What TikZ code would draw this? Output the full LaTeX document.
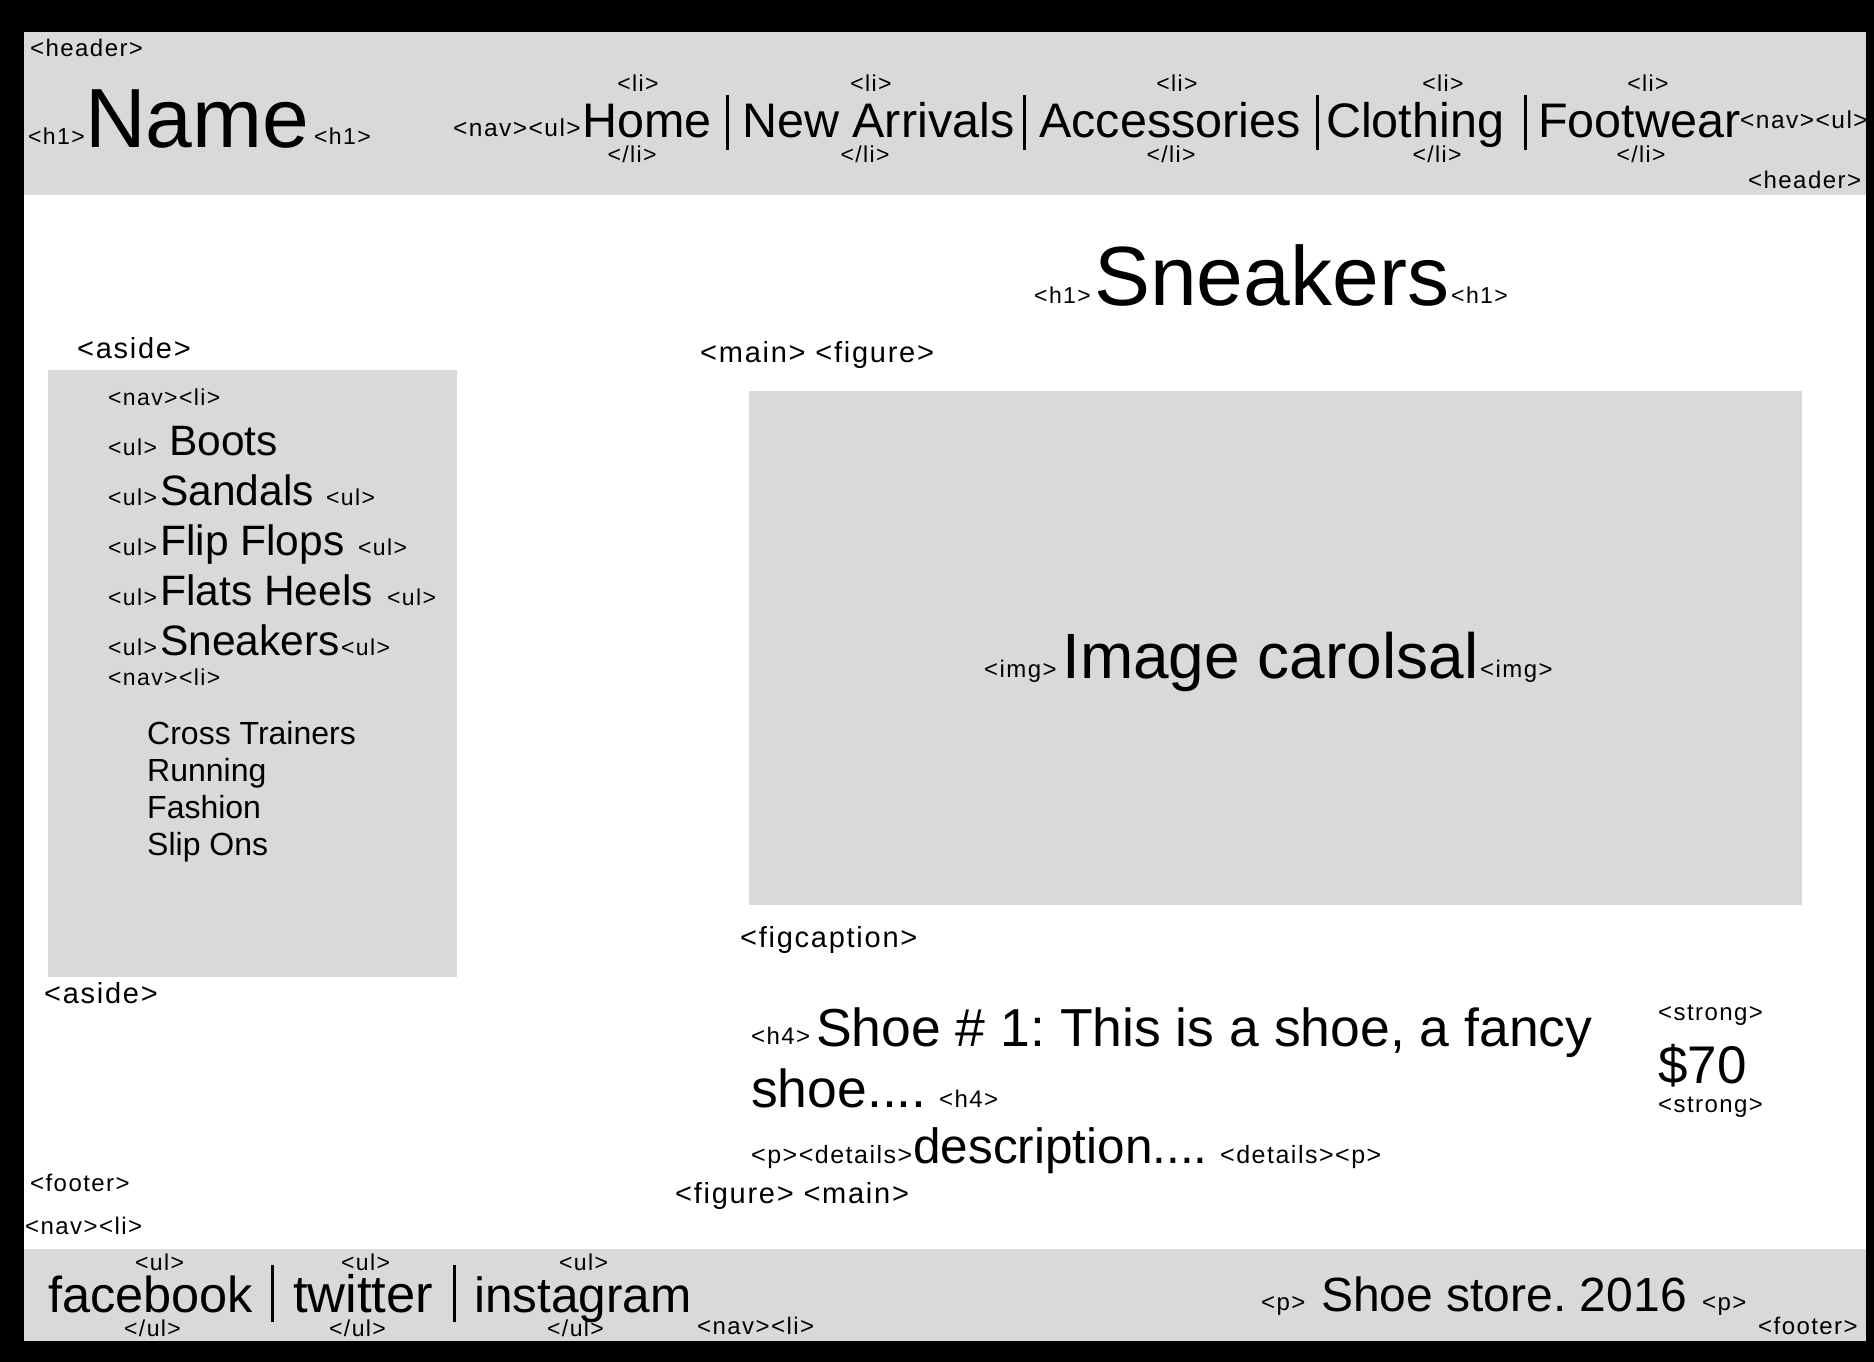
\documentclass[tikz,border=0pt]{standalone}
\usepackage{fontspec}
\setmainfont{Liberation Sans}
\newfontfamily\tagf{Liberation Sans}[LetterSpace=6]
\newcommand\setfs[1]{\fontsize{#1}{#1}\selectfont}
\definecolor{panel}{HTML}{D9D9D9}
\tikzset{
  tag/.style={anchor=base west, inner sep=0pt, font=\tagf\setfs{#1}},
  tag/.default=23,
  tagc/.style={anchor=base, inner sep=0pt, font=\tagf\setfs{#1}},
  tagc/.default=23,
  txt/.style={anchor=base west, inner sep=0pt, font=\setfs{#1}},
  bar/.style={line width=3pt, black},
}
\begin{document}
\frenchspacing
\begin{tikzpicture}[x=1pt,y=-1pt]
\useasboundingbox (0,0) rectangle (1874,1362);
% background
\fill[black] (0,0) rectangle (1874,1362);
\fill[white] (24,32) rectangle (1866,1341);
% header
\fill[panel] (24,32) rectangle (1866,195);
\node[tag=24] (hdrA) at (30,57) {<header>};
\node[tag] (h1a) at (28,145) {<h1>};
\node[txt=84] (name) at (85,147) {Name};
\node[tag] (h1b) at (314,145) {<h1>};
\node[tag=24.5] (navulA) at (453,136) {<nav><ul>};
\node[txt=48.5] (home) at (582,138) {Home};
\node[tagc] (liA) at (638,92) {<li>};
\node[tagc] (eliA) at (632,163) {</li>};
\coordinate (b1t) at (727,95); \coordinate (b1b) at (727,150);
\draw[bar] (b1t) -- (b1b);
\node[txt=48.5] (newarr) at (742,138) {New Arrivals};
\node[tagc] (liB) at (871,92) {<li>};
\node[tagc] (eliB) at (865,163) {</li>};
\coordinate (b2t) at (1024,95); \coordinate (b2b) at (1024,150);
\draw[bar] (b2t) -- (b2b);
\node[txt=48.5] (acc) at (1039,138) {Accessories};
\node[tagc] (liC) at (1177,92) {<li>};
\node[tagc] (eliC) at (1171,163) {</li>};
\coordinate (b3t) at (1317,95); \coordinate (b3b) at (1317,150);
\draw[bar] (b3t) -- (b3b);
\node[txt=48.5] (cloth) at (1326,138) {Clothing};
\node[tagc] (liD) at (1443,92) {<li>};
\node[tagc] (eliD) at (1437,163) {</li>};
\coordinate (b4t) at (1525,95); \coordinate (b4b) at (1525,150);
\draw[bar] (b4t) -- (b4b);
\node[txt=48.5] (foot) at (1538,138) {Footwear};
\node[tagc] (liE) at (1648,92) {<li>};
\node[tagc] (eliE) at (1641,163) {</li>};
\node[tag=24.5] (navulB) at (1740,129) {<nav><ul>};
\node[tag=24] (hdrB) at (1748,188) {<header>};
% main heading
\node[tag] (sh1a) at (1034,303) {<h1>};
\node[txt=84] (sneak) at (1094,305) {Sneakers};
\node[tag] (sh1b) at (1451,303) {<h1>};
% aside
\node[tag=29] (asideA) at (77,358) {<aside>};
\fill[panel] (48,370) rectangle (457,977);
\node[tag] (anavA) at (108,405) {<nav><li>};
\node[tag] (ul1) at (108,455) {<ul>};
\node[txt=42.5] (boots) at (169,455) {Boots};
\node[tag] (ul2) at (108,505) {<ul>};
\node[txt=42.5] (sandals) at (160,505) {Sandals};
\node[tag] (ul2b) at (326,505) {<ul>};
\node[tag] (ul3) at (108,555) {<ul>};
\node[txt=42.5] (flip) at (160,555) {Flip Flops};
\node[tag] (ul3b) at (358,555) {<ul>};
\node[tag] (ul4) at (108,605) {<ul>};
\node[txt=42.5] (flats) at (160,605) {Flats Heels};
\node[tag] (ul4b) at (387,605) {<ul>};
\node[tag] (ul5) at (108,655) {<ul>};
\node[txt=42.5] (sneak2) at (160,655) {Sneakers};
\node[tag] (ul5b) at (341,655) {<ul>};
\node[tag] (anavB) at (108,685) {<nav><li>};
\node[txt=32] (cross) at (147,744) {Cross Trainers};
\node[txt=32] (run) at (147,781) {Running};
\node[txt=32] (fash) at (147,818) {Fashion};
\node[txt=32] (slip) at (147,855) {Slip Ons};
\node[tag=29] (asideB) at (44,1003) {<aside>};
% main figure
\node[tag=29] (mainfig) at (700,362) {<main> <figure>};
\fill[panel] (749,391) rectangle (1802,905);
\node[tag=24] (imgA) at (984,677) {<img>};
\node[txt=64] (imgtxt) at (1062,678) {Image carolsal};
\node[tag=24] (imgB) at (1480,677) {<img>};
\node[tag=29] (figcap) at (740,947) {<figcaption>};
\node[tag=24] (h4a) at (751,1044) {<h4>};
\node[txt=53.5] (shoeA) at (816,1046) {Shoe \# 1: This is a shoe, a fancy};
\node[txt=53.5] (shoeB) at (751,1107) {shoe....};
\node[tag=24] (h4b) at (939,1107) {<h4>};
\node[tag=25] (pdet) at (751,1163) {<p><details>};
\node[txt=49.5] (desc) at (913,1163) {description....};
\node[tag=25] (detp) at (1220,1163) {<details><p>};
\node[tag=24] (strA) at (1658,1020) {<strong>};
\node[txt=53] (price) at (1658,1083) {\$70};
\node[tag=24] (strB) at (1658,1112) {<strong>};
\node[tag=29] (figmain) at (675,1203) {<figure> <main>};
% footer
\node[tag=24] (footA) at (30,1191) {<footer>};
\node[tag=24] (fnavA) at (25,1234) {<nav><li>};
\fill[panel] (24,1249) rectangle (1866,1341);
\node[tag] (ulf1) at (135,1270) {<ul>};
\node[txt=50.5] (fb) at (48,1312) {facebook};
\node[tag] (eulf1) at (124,1336) {</ul>};
\coordinate (b5t) at (272,1265); \coordinate (b5b) at (272,1322);
\draw[bar] (b5t) -- (b5b);
\node[tag] (ulf2) at (341,1270) {<ul>};
\node[txt=52.5] (tw) at (293,1312) {twitter};
\node[tag] (eulf2) at (329,1336) {</ul>};
\coordinate (b6t) at (454,1265); \coordinate (b6b) at (454,1322);
\draw[bar] (b6t) -- (b6b);
\node[tag] (ulf3) at (559,1270) {<ul>};
\node[txt=49.5] (ig) at (474,1312) {instagram};
\node[tag] (eulf3) at (547,1336) {</ul>};
\node[tag=24] (fnavB) at (697,1334) {<nav><li>};
\node[tag=24] (pA) at (1261,1310) {<p>};
\node[txt=48] (store) at (1321,1311) {Shoe store. 2016};
\node[tag=24] (pB) at (1702,1310) {<p>};
\node[tag=24] (footB) at (1758,1334) {<footer>};
\end{tikzpicture}
\end{document}
